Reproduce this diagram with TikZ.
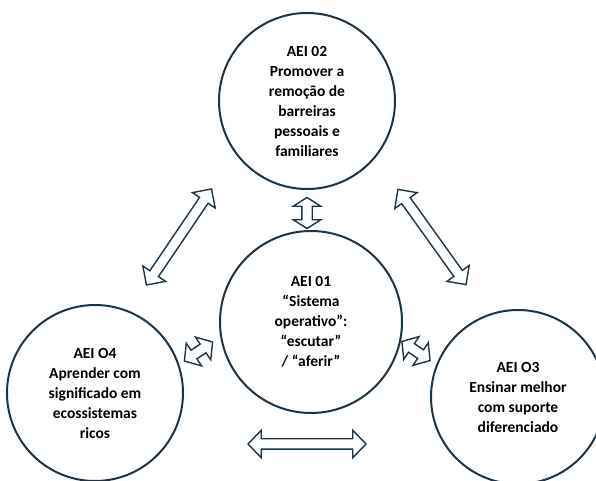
\documentclass[tikz,border=0pt]{standalone}
\usepackage{fontspec}
\setmainfont{Carlito}
\usepackage{tikz}
\usetikzlibrary{shapes.arrows}
\definecolor{aeiblue}{RGB}{27,53,70}
\newcommand*{\xMin}{0}
\newcommand*{\xMax}{596}
\newcommand*{\yMin}{0}
\newcommand*{\yMax}{481}

\tikzset{
	aei/.style={circle, draw=aeiblue, line width=2pt, inner sep=0pt, minimum size=176pt,
		align=center, font=\bfseries\fontsize{15.5}{20}\selectfont},
	duplo/.style={double arrow, draw=aeiblue, line width=1.4pt, fill=white,
		inner sep=0pt, inner ysep=4.5pt, double arrow head extend=8.5pt}
}

\begin{document}
\begin{tikzpicture}[x=1pt,y=1pt]
	\useasboundingbox (\xMin,\yMin) rectangle (\xMax,\yMax);
	\clip (\xMin,\yMin) rectangle (\xMax,\yMax);

	% the four areas
	\node[aei] (aei02) at (307,380) {AEI 02\\Promover a\\remoção de\\barreiras\\pessoais e\\familiares};
	\node[aei, minimum size=182pt] (aei01) at (311,159) {AEI 01\\“Sistema\\operativo”:\\“escutar”\\/ “aferir”};
	\node[aei] (aei04) at (95,88) {AEI O4\\Aprender com\\significado em\\ecossistemas\\ricos};
	\node[aei, minimum size=174pt] (aei03) at (518,84) {AEI O3\\Ensinar melhor\\com suporte\\diferenciado};

	% arrows between them
	\foreach \x/\y/\len/\ang/\tip/\name in {179/244/116/55.9/90/a24, 432/244/117/-54.4/90/a23,
		307/268/31/90/115/a12, 198.5/129.5/34/34/100/a14, 416/130/34/-34/100/a13, 307/37/118/0/92/a34} {
		\node[duplo, minimum height=\len pt, rotate=\ang, double arrow tip angle=\tip] (\name) at (\x,\y) {};
	}
\end{tikzpicture}
\end{document}
